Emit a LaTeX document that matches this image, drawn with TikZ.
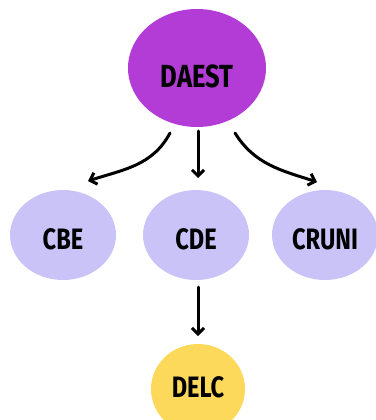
\documentclass[tikz,border=0pt]{standalone}
\usepackage{fontspec}
\setmainfont{Fira Sans}[FakeStretch=0.8]
\usetikzlibrary{shapes.geometric,arrows.meta}
\definecolor{topc}{HTML}{B33BD6}
\definecolor{midc}{HTML}{C9C3F8}
\definecolor{botc}{HTML}{FCD95B}
\tikzset{
  blob/.style={ellipse, draw=none, inner sep=0pt, text depth=0pt, font=\bfseries\fontsize{29.5}{30}\selectfont},
  arr/.style={-{Straight Barb[length=6pt,width=12pt]}, line width=3pt, line cap=round, black}
}
\begin{document}
\begin{tikzpicture}[x=1pt,y=-1pt]
\useasboundingbox (0,0) rectangle (375,420);
\node[blob, fill=topc, minimum width=138pt, minimum height=118pt, text height=38pt, font=\bfseries\fontsize{32}{32}\selectfont] (daest) at (197,68) {DAEST};
\node[blob, fill=midc, minimum width=106pt, minimum height=90pt, text height=28pt] (cbe) at (63,235) {CBE};
\node[blob, fill=midc, minimum width=106pt, minimum height=90pt, text height=28pt] (cde) at (196,235) {CDE};
\node[blob, fill=midc, minimum width=106pt, minimum height=90pt, text height=28pt] (cruni) at (325,235) {CRUNI};
\node[blob, fill=botc, minimum width=94pt, minimum height=90pt, text height=16pt] (delc) at (198,389) {DELC};
\draw[arr] ([shift={(-27,65)}]daest.center) to[out=-118,in=18] ([shift={(25,-54)}]cbe.center);
\draw[arr] ([shift={(1,63)}]daest.center) -- ([shift={(2,-57)}]cde.center);
\draw[arr] ([shift={(38,65)}]daest.center) to[out=-58,in=162] ([shift={(-8,-53)}]cruni.center);
\draw[arr] ([shift={(2,52)}]cde.center) -- ([shift={(0,-53)}]delc.center);
\end{tikzpicture}
\end{document}
